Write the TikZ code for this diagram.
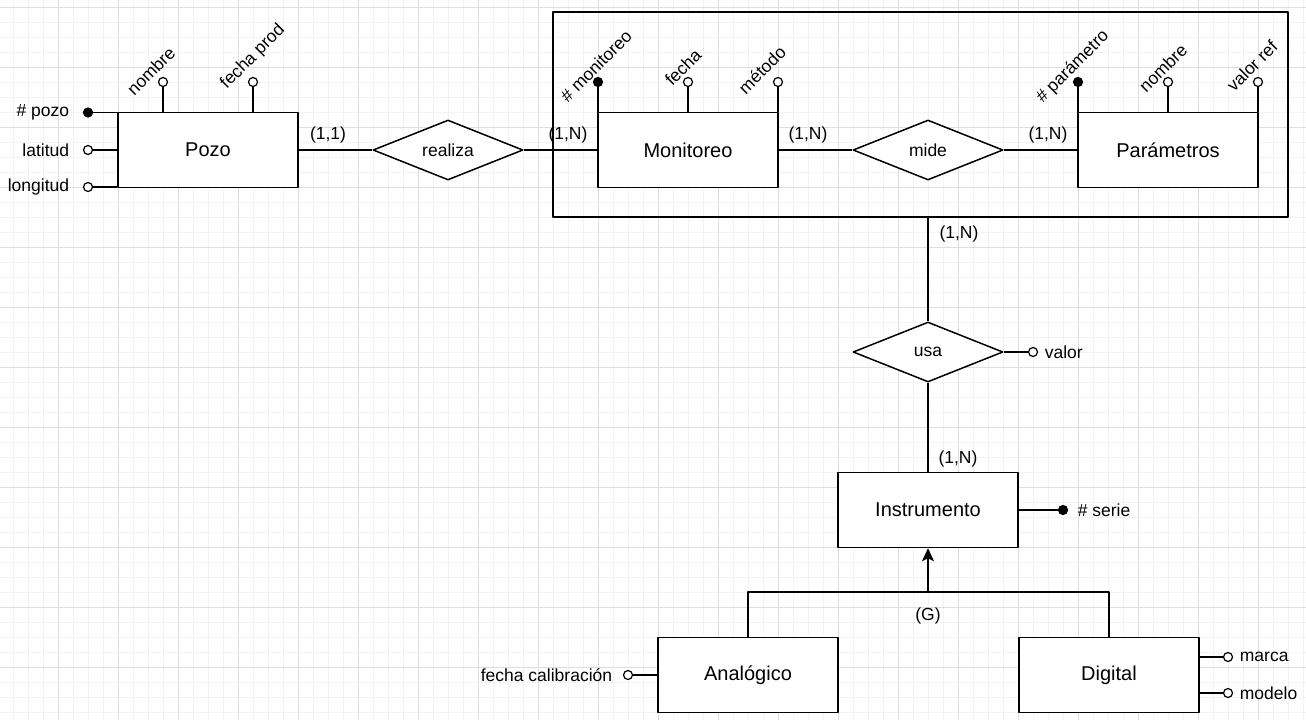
\documentclass[tikz,border=0pt]{standalone}
\usepackage{fontspec}
\setmainfont{Liberation Sans}
\usetikzlibrary{shapes.geometric,positioning,arrows.meta}
\definecolor{gmayor}{RGB}{222,222,222}
\definecolor{gmenor}{RGB}{243,243,243}
\begin{document}
\begin{tikzpicture}[x=1pt, y=-1pt, line width=1.5pt, line join=round, >={Stealth[length=13pt,width=12pt,inset=3pt]},
ent/.style={draw, fill=white, minimum width=180, minimum height=75, font=\fontsize{20}{24}\selectfont},
rel/.style={draw, fill=white, diamond, aspect=2.5, minimum width=150, minimum height=60, inner sep=0pt, font=\fontsize{17.5}{21}\selectfont},
key/.style={circle, draw, fill=black, minimum size=9, inner sep=0pt, line width=1.2pt},
att/.style={circle, draw, fill=white, minimum size=9, inner sep=0pt, line width=1.2pt},
lab/.style={inner sep=1pt, font=\fontsize{17.5}{21}\selectfont}]
\useasboundingbox (0,0) rectangle (1306,720);
\fill[white] (0,0) rectangle (1306,720);
%Cuadrícula
\foreach \gx in {13,28,...,1306} \draw[gmenor, line width=1pt] (\gx,0)--(\gx,720);
\foreach \gy in {7,22,...,720} \draw[gmenor, line width=1pt] (0,\gy)--(1306,\gy);
\foreach \gx in {58,118,...,1306} \draw[gmayor, line width=1pt] (\gx,0)--(\gx,720);
\foreach \gy in {7,67,...,720} \draw[gmayor, line width=1pt] (0,\gy)--(1306,\gy);

%Agregación
\node[draw, minimum width=735, minimum height=205, inner sep=0pt] (agreg) at (920.5,114.5) {};

%Entidades y relaciones
\node[ent] (pozo) at (208,150) {Pozo};
\node[ent] (monit) at (688,150) {Monitoreo};
\node[ent] (param) at (1168,150) {Parámetros};
\node[ent] (instr) at (928,510) {Instrumento};
\node[ent] (analog) at (748,675) {Analógico};
\node[ent] (digital) at (1109,675) {Digital};
\node[rel] (realiza) at (448,150) {realiza};
\node[rel] (mide) at (928,150) {mide};
\node[rel] (usa) at (928,352) {usa};

\draw (pozo)--(realiza)--(monit)--(mide)--(param);
\draw (usa.north |- agreg.south)--(usa.north);
\draw (usa)--(instr);
\coordinate (gen) at (928,592);
\draw[->] (gen)--(instr);
\draw (analog) |- (gen) -| (digital);

%Cardinalidades
\node[lab] (c1) at (328,135) {(1,1)};
\node[lab] (c2) at (568,135) {(1,N)};
\node[lab] (c3) at (808,135) {(1,N)};
\node[lab] (c4) at (1048,135) {(1,N)};
\node[lab] (c5) at (959,234) {(1,N)};
\node[lab] (c6) at (958,459) {(1,N)};
\node[lab] (cg) at (928,616) {(G)};

%Atributos de Pozo
\node[key] (kpozo) at (88,112.5) {};
\node[att] (alat) at (88,150) {};
\node[att] (alon) at (88,187) {};
\foreach \a in {kpozo,alat,alon} \draw (\a)--(\a -| pozo.west);
\node[lab, left=12pt of kpozo] (lpozo) {\# pozo};
\node[lab, left=12pt of alat] (llat) {latitud};
\node[lab, left=12pt of alon] (llon) {longitud};
\node[att] (anom) at (163,82) {};
\node[att] (afpr) at (253,82) {};
\node[lab, rotate=45] (lnom) at (151,71) {nombre};
\node[lab, rotate=45] (lfpr) at (253,57) {fecha prod};

%Atributos de Monitoreo
\node[key] (kmon) at (598,82) {};
\node[att] (afec) at (688,82) {};
\node[att] (amet) at (778,82) {};
\node[lab, rotate=45] (lmon) at (596,66) {\# monitoreo};
\node[lab, rotate=45] (lfec) at (683,67) {fecha};
\node[lab, rotate=45] (lmet) at (762,70) {método};

%Atributos de Parámetros
\node[key] (kpar) at (1078,82) {};
\node[att] (anpa) at (1168,82) {};
\node[att] (avre) at (1258,82) {};
\node[lab, rotate=45] (lpar) at (1073,67) {\# parámetro};
\node[lab, rotate=45] (lnpa) at (1163,68) {nombre};
\node[lab, rotate=45] (lvre) at (1252,66) {valor ref};

\draw (anom)--(anom |- pozo.north) (afpr)--(afpr |- pozo.north)
(kmon)--(kmon |- monit.north) (afec)--(afec |- monit.north) (amet)--(amet |- monit.north)
(kpar)--(kpar |- param.north) (anpa)--(anpa |- param.north) (avre)--(avre |- param.north);

%Otros atributos
\node[att] (aval) at (1033,352) {};
\node[key] (kser) at (1063,510) {};
\node[att] (acal) at (628,675) {};
\node[att] (amar) at (1228,657) {};
\node[att] (amod) at (1228,693) {};
\draw (usa)--(aval) (instr)--(kser) (acal)--(analog)
(amar)--(amar -| digital.east) (amod)--(amod -| digital.east);
\node[lab, right=5pt of aval] (lval) {valor};
\node[lab, right=8pt of kser] (lser) {\# serie};
\node[lab, left=9pt of acal] (lcal) {fecha calibración};
\node[lab, right=5pt of amar] (lmar) {marca};
\node[lab, right=5pt of amod] (lmod) {modelo};
\end{tikzpicture}
\end{document}
